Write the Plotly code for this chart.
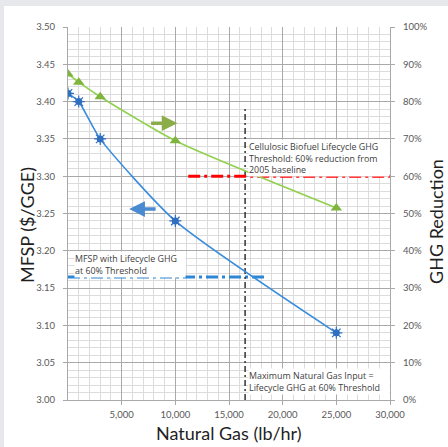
import plotly.graph_objects as go

# ---- data ----
natural_gas = [0, 1000, 3000, 10000, 25000]            # lb/hr
mfsp = [3.411, 3.400, 3.350, 3.240, 3.090]             # $/GGE (left axis)
ghg_reduction = [0.874, 0.852, 0.813, 0.695, 0.515]    # fraction (right axis)

ghg_threshold = 0.60
ghg_threshold_x = [11200, 30000]
mfsp_at_threshold = 3.165
mfsp_threshold_x = [0, 18400]
max_natural_gas = 16500
max_ng_y = [3.0, 3.39]

x_ticks = [5000, 10000, 15000, 20000, 25000, 30000]
x_tick_text = ["5,000", "10,000", "15,000", "20,000", "25,000", "30,000"]

W, H = 448, 447
L, R, T, B = 68, 58, 27, 47
FONT = "Lato"
BOX_FONT = "Open Sans"
TICK_COLOR = "#595959"
TEXT_COLOR = "#404040"
THICK_DASHDOT = "12px,4px,3px,4px"
THIN_DASHDOT = "6px,3px,2px,3px"

fig = go.Figure()

# threshold lines
fig.add_trace(go.Scatter(x=ghg_threshold_x, y=[ghg_threshold] * len(ghg_threshold_x), yaxis="y2",
                         mode="lines", line=dict(color="#ff0000", width=3, dash=THICK_DASHDOT),
                         hoverinfo="skip", showlegend=False))
fig.add_trace(go.Scatter(x=mfsp_threshold_x, y=[mfsp_at_threshold] * len(mfsp_threshold_x),
                         mode="lines", line=dict(color="#2e86d6", width=3, dash=THICK_DASHDOT),
                         hoverinfo="skip", showlegend=False))
fig.add_trace(go.Scatter(x=[max_natural_gas] * len(max_ng_y), y=max_ng_y,
                         mode="lines", line=dict(color="#333333", width=1.5, dash=THIN_DASHDOT),
                         hoverinfo="skip", showlegend=False))

# MFSP series
fig.add_trace(go.Scatter(x=natural_gas, y=mfsp, mode="lines+markers",
                         line=dict(color="#3a8ddc", width=1.6, shape="spline", smoothing=0.6),
                         marker=dict(symbol="circle", size=7, color="#2f6fc0"),
                         name="MFSP", showlegend=False))
fig.add_trace(go.Scatter(x=natural_gas, y=mfsp, mode="markers",
                         marker=dict(symbol="asterisk-open", size=10, color="#2f6fc0",
                                     line=dict(color="#2f6fc0", width=1.2)),
                         hoverinfo="skip", showlegend=False))
# GHG reduction series
fig.add_trace(go.Scatter(x=natural_gas, y=ghg_reduction, yaxis="y2", mode="lines+markers",
                         line=dict(color="#92d050", width=1.6, shape="spline", smoothing=0.6),
                         marker=dict(symbol="triangle-up", size=10, color="#7fb53c"),
                         name="GHG Reduction", showlegend=False))

grid_major = "#a9a9a9"
grid_minor = "#dcdcdc"

fig.update_layout(
    width=W, height=H,
    margin=dict(l=L, r=R, t=T, b=B),
    paper_bgcolor="white", plot_bgcolor="white",
    font=dict(family=FONT, color=TICK_COLOR),
    xaxis=dict(range=[0, 30000], tickvals=x_ticks, ticktext=x_tick_text,
               showgrid=True, gridcolor=grid_major, gridwidth=1,
               minor=dict(dtick=1000, showgrid=True, gridcolor=grid_minor, gridwidth=1),
               showline=True, linecolor=grid_major, ticks="outside", ticklen=4, tickcolor=grid_major,
               tickfont=dict(size=9.5, color=TICK_COLOR), zeroline=False, ticklabelstandoff=2),
    yaxis=dict(range=[3.0, 3.5], dtick=0.05, tickformat=".2f",
               showgrid=True, gridcolor=grid_major, gridwidth=1,
               minor=dict(dtick=0.01, showgrid=True, gridcolor=grid_minor, gridwidth=1),
               showline=True, linecolor=grid_major, ticks="outside", ticklen=4, tickcolor=grid_major,
               tickfont=dict(size=9.5, color=TICK_COLOR), zeroline=False, ticklabelstandoff=6),
    yaxis2=dict(range=[0, 1], dtick=0.1, tickformat=".0%", overlaying="y", side="right",
                showgrid=False, showline=True, linecolor=grid_major, ticks="outside", ticklen=4,
                tickcolor=grid_major, tickfont=dict(size=9.5, color=TICK_COLOR), zeroline=False,
                ticklabelstandoff=6),
)

# light gray frame bands around the card
band = "#e6e8eb"
pw, ph = W - L - R, H - T - B
fig.add_shape(type="rect", xref="paper", yref="paper", layer="above",
              x0=-L / pw, x1=(W - L) / pw, y0=(H - B - 6) / ph, y1=(H - B) / ph,
              fillcolor=band, line=dict(width=0))
fig.add_shape(type="rect", xref="paper", yref="paper", layer="above",
              x0=-L / pw, x1=(4 - L) / pw, y0=-B / ph, y1=(H - B) / ph,
              fillcolor=band, line=dict(width=0))

# axis titles
title_font = dict(family=FONT, size=18, color="#1f1f1f")
fig.add_annotation(text="MFSP ($/GGE)", xref="paper", yref="paper", x=(27 - L) / pw, y=(H - B - 225) / ph,
                   textangle=-90, showarrow=False, font=title_font, xanchor="center", yanchor="middle")
fig.add_annotation(text="GHG Reduction", xref="paper", yref="paper", x=(436 - L) / pw, y=(H - B - 222) / ph,
                   textangle=-90, showarrow=False, font=title_font, xanchor="center", yanchor="middle")
fig.add_annotation(text="Natural Gas (lb/hr)", xref="paper", yref="paper", x=(229 - L) / pw, y=(H - B - 433) / ph,
                   showarrow=False, font=title_font, xanchor="center", yanchor="middle")

# text boxes
box_font = dict(family=BOX_FONT, size=8.9, color=TEXT_COLOR)
fig.add_annotation(text="Cellulosic Biofuel Lifecycle GHG<br>Threshold: 60% reduction from<br>2005 baseline",
                   x=16800, y=3.3496, xref="x", yref="y", xanchor="left", yanchor="top", align="left",
                   showarrow=False, bgcolor="white", borderpad=0, width=140, font=box_font)
fig.add_annotation(text="MFSP with Lifecycle GHG<br>at 60% Threshold",
                   x=600, y=3.2004, xref="x", yref="y", xanchor="left", yanchor="top", align="left",
                   showarrow=False, bgcolor="white", borderpad=0, width=110, font=box_font)
fig.add_annotation(text="Maximum Natural Gas Input =<br>Lifecycle GHG at 60% Threshold",
                   x=16800, y=3.0429, xref="x", yref="y", xanchor="left", yanchor="top", align="left",
                   showarrow=False, bgcolor="white", borderpad=0, width=140, font=box_font)

# direction arrows
fig.add_annotation(x=10200, y=3.371, ax=7600, ay=3.371, xref="x", yref="y", axref="x", ayref="y",
                   showarrow=True, arrowhead=2, arrowsize=0.9, arrowwidth=3.5, arrowcolor="#8aad4a", text="")
fig.add_annotation(x=5700, y=3.256, ax=8300, ay=3.256, xref="x", yref="y", axref="x", ayref="y",
                   showarrow=True, arrowhead=2, arrowsize=0.9, arrowwidth=3.5, arrowcolor="#4a8ad0", text="")

fig.write_html("out.html", config={"displayModeBar": False},
               post_script="document.body.style.margin='0';document.body.style.padding='0';")
